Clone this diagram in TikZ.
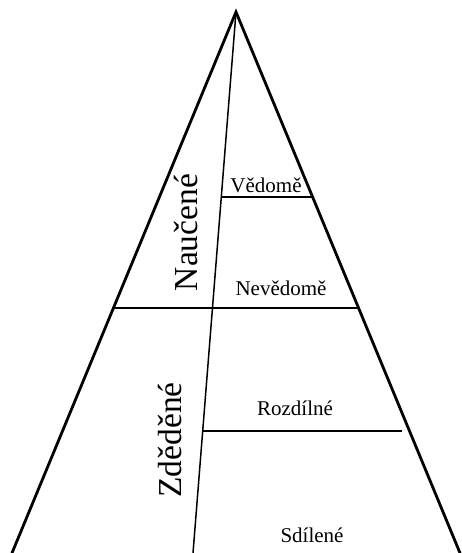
\documentclass[tikz,border=0pt]{standalone}
\usepackage{fontspec}
\setmainfont{Liberation Serif}
\begin{document}
\begin{tikzpicture}[x=1pt,y=-1pt,
  outer/.style={line width=2.8pt,line cap=round,line join=miter},
  inner/.style={line width=1.5pt},
  small/.style={font=\fontsize{21}{24}\selectfont,anchor=base,inner sep=0pt},
  big/.style={font=\fontsize{33.5}{38}\selectfont,anchor=base,rotate=90,inner sep=0pt}]
\useasboundingbox (0,0) rectangle (461,553);
\coordinate (apex) at (236,12);
\coordinate (bl) at (12,553);
\coordinate (br) at (460,553);
\coordinate (ib) at (193,553);
\coordinate (v1) at (221.3,197);
\coordinate (v2) at (312.7,197);
\coordinate (n1) at (112.5,308);
\coordinate (n2) at (359.5,308);
\coordinate (r1) at (202.7,431);
\coordinate (r2) at (402,431);
\draw[outer] (bl) -- (apex) -- (br);
\draw[inner] (apex) -- (ib);
\draw[inner] (v1) -- (v2);
\draw[inner] (n1) -- (n2);
\draw[inner] (r1) -- (r2);
\node[small] (ved) at (266,193) {Vědomě};
\node[small] (neved) at (281,295) {Nevědomě};
\node[small] (roz) at (295,415) {Rozdílné};
\node[small] (sdi) at (312,542) {Sdílené};
\node[big] (nau) at (197,232.5) {Naučené};
\node[big] (zde) at (181,440) {Zděděné};
\end{tikzpicture}
\end{document}
